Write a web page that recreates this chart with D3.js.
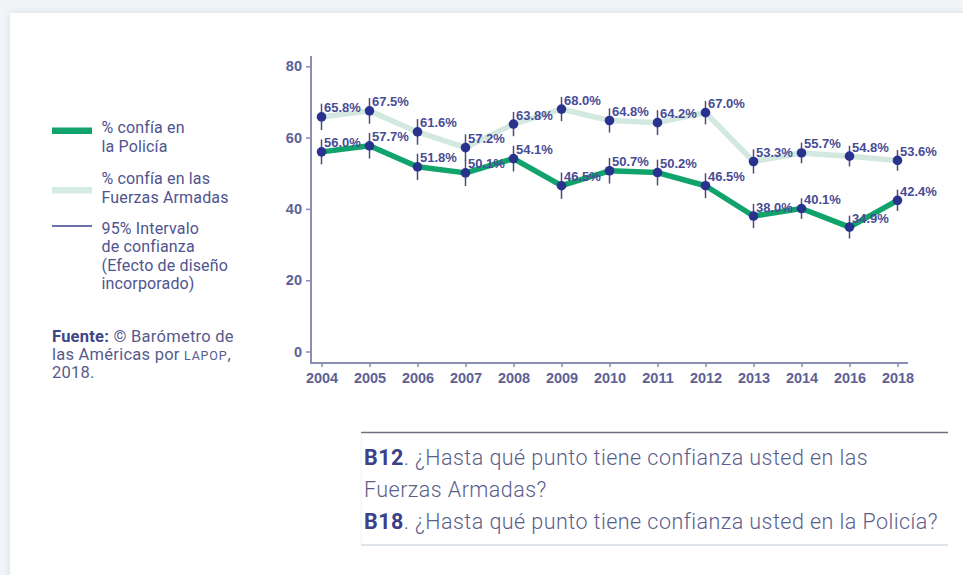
<!DOCTYPE html>
<html><head><meta charset="utf-8">
<script src="https://cdn.jsdelivr.net/npm/d3@7"></script>
<style>
html,body{margin:0;padding:0;background:#f2f5f8;}
svg{display:block;}
</style></head>
<body>
<svg id="c" width="963" height="575"></svg>
<script>
const years = ["2004","2005","2006","2007","2008","2009","2010","2011","2012","2013","2014","2016","2018"];
const ffaa = [65.8,67.5,61.6,57.2,63.8,68.0,64.8,64.2,67.0,53.3,55.7,54.8,53.6];
const policia = [56.0,57.7,51.8,50.1,54.1,46.5,50.7,50.2,46.5,38.0,40.1,34.9,42.4];
const ciFfaa = [3.7,3.6,3.6,3.7,3.4,3.4,3.4,3.5,3.3,3.4,2.9,2.9,2.9];
const ciPolicia = [3.5,3.6,3.7,3.7,3.6,3.7,3.6,3.6,3.5,3.4,2.9,3.2,3.0];
const yTicks = [0,20,40,60,80];
const legendLabels = [["% confía en","la Policía"],["% confía en las","Fuerzas Armadas"],["95% Intervalo","de confianza","(Efecto de diseño","incorporado)"]];

const svg = d3.select("#c");
const defs = svg.append("defs");
const f = defs.append("filter").attr("id","sh").attr("x","-5%").attr("y","-5%").attr("width","110%").attr("height","110%");
f.append("feGaussianBlur").attr("in","SourceAlpha").attr("stdDeviation",4);
f.append("feOffset").attr("dx",0).attr("dy",0).attr("result","b");
f.append("feFlood").attr("flood-color","#c8d3de").attr("flood-opacity",0.7);
f.append("feComposite").attr("in2","b").attr("operator","in");
const fm = f.append("feMerge"); fm.append("feMergeNode"); fm.append("feMergeNode").attr("in","SourceGraphic");
svg.append("rect").attr("x",10).attr("y",13).attr("width",980).attr("height",600).attr("fill","#fff").attr("filter","url(#sh)");

const x = d3.scalePoint().domain(years).range([321.5,897.5]);
const y = d3.scaleLinear().domain([0,80]).range([351.5,66.3]);
const axisCol = "#8a8db5", tickTxt = "#5d6196";

// axes
const ya = svg.append("g").attr("transform","translate(311,0)")
  .call(d3.axisLeft(y).tickValues(yTicks).tickSize(5).tickPadding(4));
ya.select(".domain").remove();
ya.selectAll("line").attr("stroke",axisCol).attr("stroke-width",1.5);
ya.selectAll("text").attr("fill",tickTxt).style("font-family","Liberation Sans, Arial").style("font-size","14.5px").style("font-weight","bold");
const xa = svg.append("g").attr("transform","translate(0,363)")
  .call(d3.axisBottom(x).tickSize(4).tickPadding(6));
xa.select(".domain").remove();
xa.selectAll("line").attr("stroke",axisCol).attr("stroke-width",1.5);
xa.selectAll("text").attr("fill",tickTxt).style("font-family","Liberation Sans, Arial").style("font-size","14.5px").style("font-weight","bold");
svg.append("line").attr("x1",311).attr("x2",311).attr("y1",56).attr("y2",363.5).attr("stroke",axisCol).attr("stroke-width",2);
svg.append("line").attr("x1",310).attr("x2",908).attr("y1",363).attr("y2",363).attr("stroke",axisCol).attr("stroke-width",2);

const line = d3.line().x((d,i)=>x(years[i])).y(d=>y(d));
svg.append("path").datum(ffaa).attr("d",line).attr("fill","none").attr("stroke","#d3e8de").attr("stroke-width",5.5).attr("stroke-linejoin","round");
svg.append("path").datum(policia).attr("d",line).attr("fill","none").attr("stroke","#10a36c").attr("stroke-width",5.5).attr("stroke-linejoin","round");

function series(vals, ci){
  const g = svg.append("g");
  vals.forEach((v,i)=>{
    const cx = x(years[i]);
    g.append("line").attr("x1",cx).attr("x2",cx).attr("y1",y(v+ci[i])).attr("y2",y(v-ci[i]))
      .attr("stroke","#4a4d7c").attr("stroke-width",1.5);
    g.append("circle").attr("cx",cx).attr("cy",y(v)).attr("r",4.8).attr("fill","#2a3290");
    g.append("text").attr("x",cx+2.5).attr("y",y(v)-4.5).text(v.toFixed(1)+"%")
      .attr("fill","#474c97").style("font-family","Liberation Sans, Arial").style("font-size","13px").style("font-weight","bold");
  });
}
series(ffaa, ciFfaa);
series(policia, ciPolicia);

// legend
const lg = svg.append("g");
const legTxt = "#4f5490";
lg.append("rect").attr("x",52).attr("y",127.5).attr("width",40).attr("height",6.5).attr("fill","#10a36c");
lg.append("rect").attr("x",52).attr("y",187).attr("width",40).attr("height",6.5).attr("fill","#d6ebe2");
lg.append("line").attr("x1",52).attr("x2",92).attr("y1",226).attr("y2",226).attr("stroke","#3a3f93").attr("stroke-width",1.3);
const legY = [[133,151.5],[183.5,202.5],[233.5,252,270.5,289]];
legendLabels.forEach((ls,k)=>ls.forEach((t,j)=>{
  lg.append("text").attr("x",101.5).attr("y",legY[k][j]).text(t).attr("fill",legTxt)
    .style("font-family","Roboto").style("font-size","16px").style("letter-spacing","0.15px");
}));
const srcStyle = s=>s.attr("fill","#565b8c").style("font-family","Roboto").style("font-size","16.5px").style("letter-spacing","0.25px");
const src = srcStyle(lg.append("text").attr("x",52).attr("y",341.5));
src.append("tspan").text("Fuente:").style("font-weight","bold").attr("fill","#3f4488");
src.append("tspan").text(" © Barómetro de");
const src2 = srcStyle(lg.append("text").attr("x",52).attr("y",359.5));
src2.append("tspan").text("las Américas por ");
src2.append("tspan").text("LAPOP").style("font-size","12.5px").style("letter-spacing","0.8px");
src2.append("tspan").text(",");
srcStyle(lg.append("text").attr("x",52).attr("y",378)).text("2018.");

// question box
const qb = svg.append("g");
qb.append("line").attr("x1",361).attr("x2",948).attr("y1",432.5).attr("y2",432.5).attr("stroke","#6d7080").attr("stroke-width",1.3);
qb.append("line").attr("x1",361).attr("x2",948).attr("y1",545).attr("y2",545).attr("stroke","#dfe3ea").attr("stroke-width",2);
qb.append("line").attr("x1",361).attr("x2",361).attr("y1",433).attr("y2",545).attr("stroke","#f1f3f6").attr("stroke-width",1);
const qs = [["B12","¿Hasta qué punto tiene confianza usted en las"],[null,"Fuerzas Armadas?"],["B18","¿Hasta qué punto tiene confianza usted en la Policía?"]];
const qy = [464.5,496.5,528.5];
qs.forEach((q,i)=>{
  const t = qb.append("text").attr("x",364).attr("y",qy[i]).attr("fill","#5a5e8a").style("font-family","Roboto").style("font-size","21.5px").style("font-weight","300").style("letter-spacing","0.45px");
  if(q[0]){ t.append("tspan").text(q[0]).style("font-weight","bold").attr("fill","#3b4088"); t.append("tspan").text(". "+q[1]); }
  else t.text(q[1]);
});
</script>
</body></html>
